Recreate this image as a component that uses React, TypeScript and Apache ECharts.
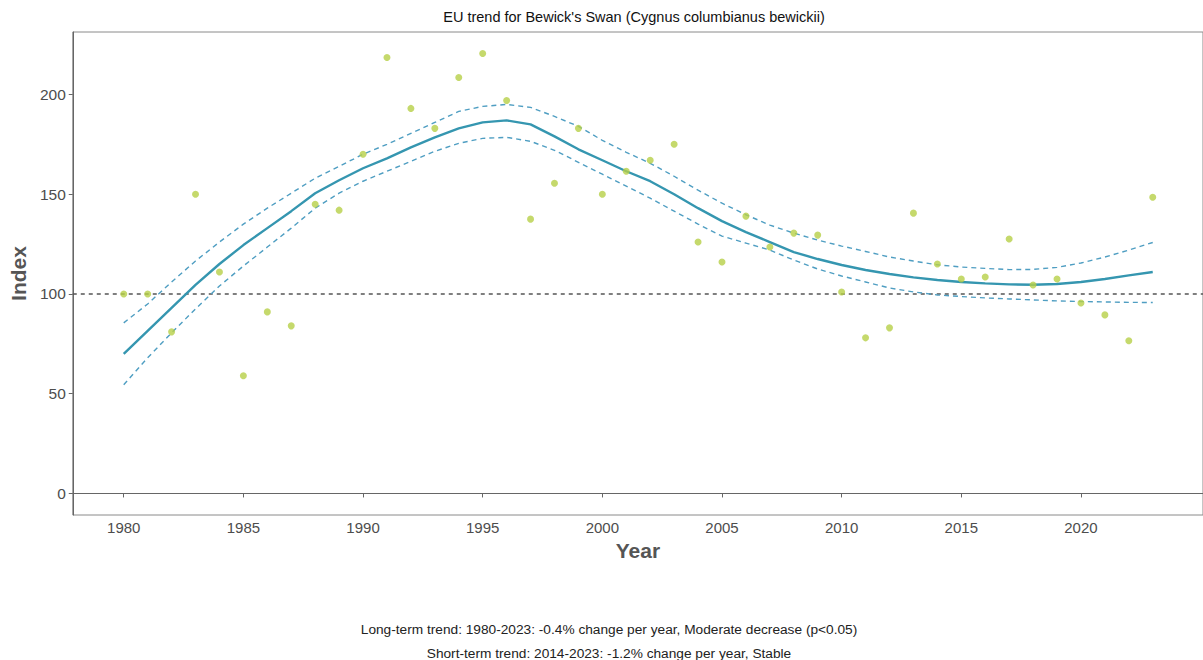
import React, { useEffect, useRef } from "react";
import * as echarts from "echarts";

const years: number[] = [
  1980, 1981, 1982, 1983, 1984, 1985, 1986, 1987, 1988, 1989,
  1990, 1991, 1992, 1993, 1994, 1995, 1996, 1997, 1998, 1999,
  2000, 2001, 2002, 2003, 2004, 2005, 2006, 2007, 2008, 2009,
  2010, 2011, 2012, 2013, 2014, 2015, 2016, 2017, 2018, 2019,
  2020, 2021, 2022, 2023,
];

const indexValues: number[] = [
  100, 100, 81, 150, 111, 59, 91, 84, 145, 142,
  170, 218.5, 193, 183, 208.5, 220.5, 197, 137.5, 155.5, 183,
  150, 161.5, 167, 175, 126, 116, 139, 123.5, 130.5, 129.5,
  101, 78, 83, 140.5, 115, 107.5, 108.5, 127.5, 104.5, 107.5,
  95.5, 89.5, 76.5, 148.5,
];

const trend: number[] = [
  70, 81.5, 93, 104.5, 115, 124.5, 133, 141.5, 150.5, 157,
  163, 168, 173.5, 178.5, 183, 186, 187, 185, 179, 172.5,
  167, 161.5, 156.5, 150, 143, 136.5, 131, 126, 121, 117.5,
  114.5, 112, 110, 108.3, 107, 106, 105.3, 104.8, 104.6, 105,
  106, 107.5, 109.3, 111,
];

const upperCI: number[] = [
  85.5, 95, 106, 116.5, 126, 135, 143, 150.5, 158, 164,
  170, 175, 180.5, 186, 191.5, 194, 195, 193.5, 189, 184,
  177, 171, 165.5, 159, 152, 145.5, 139.7, 134.5, 130.5, 127,
  124, 121.3, 118.5, 116.5, 114.6, 113.5, 112.8, 112.2, 112.3, 113.3,
  115.5, 118.5, 122, 125.8,
];

const lowerCI: number[] = [
  54.5, 68, 80.5, 92.5, 104, 114, 123.5, 133, 143, 150.5,
  156.5, 161.5, 166.5, 171.5, 175.5, 178, 178.5, 176.5, 172, 166,
  160, 154, 148, 141.5, 135, 129, 125.5, 122, 117, 112.5,
  109, 106, 103, 101, 99.5, 98.7, 98, 97.5, 97, 96.5,
  96.2, 96, 95.8, 95.7,
];

const xTicks: number[] = [1980, 1985, 1990, 1995, 2000, 2005, 2010, 2015, 2020];
const yTicks: number[] = [0, 50, 100, 150, 200];
const baseline = 100;

const titleText = "EU trend for Bewick's Swan (Cygnus columbianus bewickii)";
const noteLines: string[] = [
  "Long-term trend: 1980-2023: -0.4% change per year, Moderate decrease (p<0.05)",
  "Short-term trend: 2014-2023: -1.2% change per year, Stable",
];

const FONT = "'Liberation Sans', Arial, sans-serif";

export default function App() {
  const ref = useRef<HTMLDivElement | null>(null);

  useEffect(() => {
    document.body.style.margin = "0";
    if (!ref.current) return;
    const chart = echarts.init(ref.current, undefined, { renderer: "svg" });

    const pair = (arr: number[]) => years.map((y, i) => [y, arr[i]]);

    chart.setOption({
      animation: false,
      backgroundColor: "#ffffff",
      textStyle: { fontFamily: FONT },
      grid: {
        left: 69,
        top: 32,
        right: -4,
        bottom: 145,
        show: true,
        borderColor: "#8a8a8a",
        borderWidth: 1,
        containLabel: false,
      },
      xAxis: {
        type: "value",
        min: 1977.87,
        max: 2025.1,
        name: "Year",
        nameLocation: "middle",
        nameGap: 24,
        nameTextStyle: { fontSize: 21, fontWeight: "bold", color: "#555555", fontFamily: FONT },
        axisLine: { show: true, lineStyle: { color: "#666666", width: 1 } },
        axisTick: { show: true, length: 4, lineStyle: { color: "#666666" }, customValues: xTicks },
        axisLabel: { fontSize: 15, color: "#4d4d4d", margin: 5, fontFamily: FONT, customValues: xTicks, formatter: (v: number) => String(v) },
        splitLine: { show: false },
      },
      yAxis: {
        type: "value",
        min: -10.8,
        max: 231.3,
        name: "Index",
        nameLocation: "middle",
        nameGap: 35,
        nameTextStyle: { fontSize: 21, fontWeight: "bold", color: "#555555", fontFamily: FONT },
        axisLine: { show: true, lineStyle: { color: "#666666", width: 1 } },
        axisTick: { show: true, length: 4, lineStyle: { color: "#666666" }, customValues: yTicks },
        axisLabel: { fontSize: 15.5, color: "#4d4d4d", margin: 7, fontFamily: FONT, customValues: yTicks },
        splitLine: { show: false },
      },
      series: [
        {
          type: "line",
          name: "upper",
          data: pair(upperCI),
          showSymbol: false,
          symbol: "none",
          lineStyle: { color: "#4f9ec2", width: 1.4, type: [5, 4] },
          z: 3,
        },
        {
          type: "line",
          name: "lower",
          data: pair(lowerCI),
          showSymbol: false,
          symbol: "none",
          lineStyle: { color: "#4f9ec2", width: 1.4, type: [5, 4] },
          z: 3,
        },
        {
          type: "line",
          name: "trend",
          data: pair(trend),
          showSymbol: false,
          symbol: "none",
          lineStyle: { color: "#3596b0", width: 2.4 },
          z: 4,
        },
        {
          type: "scatter",
          name: "index",
          data: pair(indexValues),
          symbolSize: 7,
          itemStyle: { color: "#b6cf47" },
          z: 5,
          markLine: {
            silent: true,
            symbol: "none",
            label: { show: false },
            lineStyle: { color: "#555555", width: 1.5, type: [4, 4] },
            data: [{ yAxis: baseline }],
            z: 2,
          },
        },
      ],
      graphic: [
        {
          type: "text",
          x: 634,
          y: 17,
          style: {
            text: titleText,
            fontSize: 14.5,
            fontFamily: FONT,
            fill: "#111111",
            align: "center",
            verticalAlign: "middle",
          },
        },
        ...noteLines.map((t, i) => ({
          type: "text",
          x: 609,
          y: 629 + i * 24,
          style: {
            text: t,
            fontSize: 13.7,
            fontFamily: FONT,
            fill: "#222222",
            align: "center",
            verticalAlign: "middle",
          },
        })),
      ],
    });

    return () => chart.dispose();
  }, []);

  return <div ref={ref} style={{ width: 1203, height: 660 }} />;
}
